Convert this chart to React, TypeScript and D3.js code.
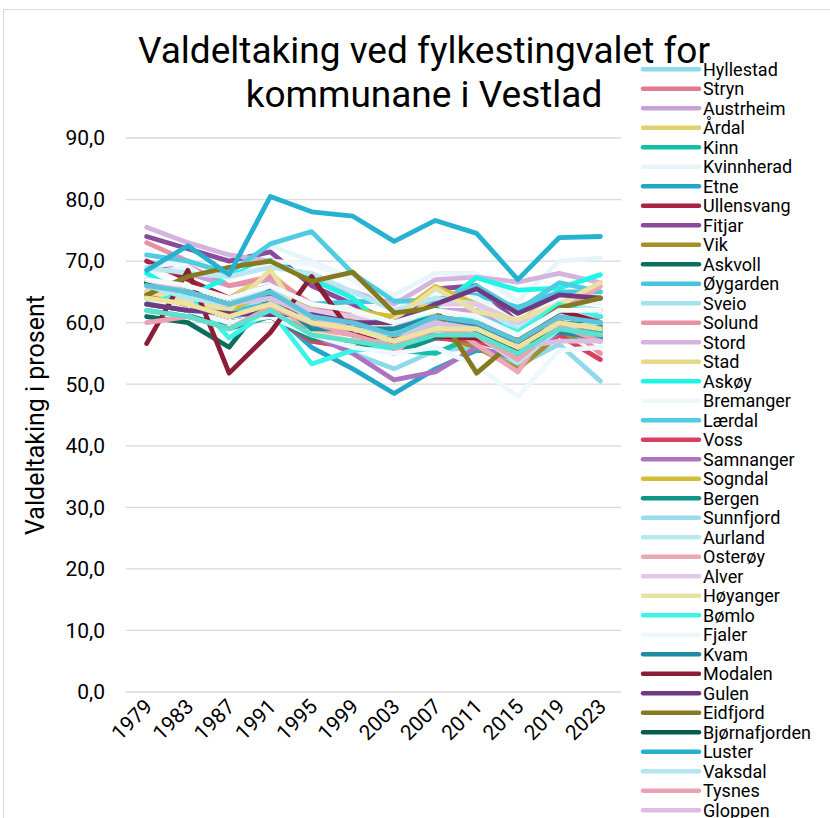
import React from 'react';
import * as d3 from 'd3';

const years = ['1979', '1983', '1987', '1991', '1995', '1999', '2003', '2007', '2011', '2015', '2019', '2023'];
const yTicks = [0, 10, 20, 30, 40, 50, 60, 70, 80, 90];

const municipalities = [
  'Hyllestad', 'Stryn', 'Austrheim', 'Årdal', 'Kinn', 'Kvinnherad', 'Etne', 'Ullensvang', 'Fitjar', 'Vik',
  'Askvoll', 'Øygarden', 'Sveio', 'Solund', 'Stord', 'Stad', 'Askøy', 'Bremanger', 'Lærdal', 'Voss',
  'Samnanger', 'Sogndal', 'Bergen', 'Sunnfjord', 'Aurland', 'Osterøy', 'Alver', 'Høyanger', 'Bømlo', 'Fjaler',
  'Kvam', 'Modalen', 'Gulen', 'Eidfjord', 'Bjørnafjorden', 'Luster', 'Vaksdal', 'Tysnes', 'Gloppen',
  'Masfjorden', 'Austevoll', 'Fedje', 'Ulvik',
];

const colors = [
  '#8FD9EA', '#E07A8E', '#CBA0D6', '#E3D06C', '#14BFA8', '#E6F5FA', '#23A7C8', '#A82342', '#8C4A9A', '#A3902A',
  '#0B6E5E', '#45C6DE', '#A5E2EF', '#E891A5', '#D5B3DF', '#E6DA8A', '#1EF5E5', '#EEF7FB', '#4FCBE2', '#D8405F',
  '#AE72C2', '#D3BE36', '#0C9686', '#98DDEB', '#B9E8F2', '#EAA7B6', '#E1C8E8', '#E9E1A3', '#3BF4E8', '#EEF8FC',
  '#1D8BA0', '#8B1E36', '#6F3A82', '#857A20', '#075A4E', '#25B2D0', '#B2E6F0', '#EBA3B3', '#DCBDE2',
  '#EDE29E', '#5DE0CE', '#F2FAFC', '#5CC3DA',
];

const hyllestad = [66, 64.5, 62, 63.5, 60, 55, 52.5, 55.5, 56, 53, 56.5, 50.5];
const stryn = [66.5, 65, 63, 64, 60.5, 59, 56.5, 60, 59, 55, 60, 58];
const austrheim = [70, 68, 66, 67, 62, 60, 58, 62, 62, 58, 62, 60];
const ardal = [67, 66, 64, 68, 62.5, 62, 60, 64, 64, 60, 65, 64];
const kinn = [62, 61, 60, 61, 57, 56, 55.5, 55, 58, 55, 58.5, 58.5];
const kvinnherad = [68, 69, 68.5, 72.5, 70, 67, 64.5, 68, 68, 63.5, 70, 70.5];
const etne = [66, 63, 61, 62, 56, 52.5, 48.5, 52.5, 55.5, 55, 58, 57];
const ullensvang = [70, 67, 64, 66, 60, 58, 57, 60, 60, 57, 62, 62];
const fitjar = [74, 72, 70, 71.5, 66, 63, 60, 65.5, 66, 60, 64, 64];
const vik = [64, 62, 60, 61, 59, 60.5, 57, 58, 56, 52.5, 58, 57.5];
const askvoll = [61, 60, 56, 64.5, 58.8, 60, 58, 61, 60, 56, 62, 61];
const oygarden = [64, 63, 62, 63, 63, 63.4, 63.5, 63.7, 64.5, 62.5, 65, 65];
const sveio = [65, 64, 62.5, 64, 60, 58, 56, 59, 58, 54, 59, 58];
const solund = [73, 70, 66, 67.5, 63, 61, 57, 61, 60, 55, 60.5, 55];
const stord = [75.5, 73, 71, 70, 67, 65, 63, 67, 67.4, 66.6, 68, 66.5];
const stad = [65, 64, 62, 66, 61, 60, 58, 62, 61, 58, 62, 61];
const askoy = [68, 64.2, 67.5, 70.2, 67, 64, 58, 62.4, 67.3, 65.3, 65.6, 67.8];
const bremanger = [69, 70, 67, 70, 69.5, 67, 62, 65, 64, 60, 64, 63];
const laerdal = [71, 70, 68, 72.8, 74.8, 68, 63.5, 63.5, 66, 62, 66.5, 65];
const voss = [65, 62, 60, 61, 57, 56, 55.3, 57.5, 57, 55, 58, 54];
const samnanger = [63, 62, 60, 61, 58, 55, 50.7, 52, 56, 54, 58.4, 61];
const sogndal = [64, 63.5, 62, 65, 63, 62, 61, 65.9, 63, 60, 63, 62];
const bergen = [63, 62, 59, 61, 57.5, 57, 55, 57.5, 58.5, 56, 60, 59.5];
const sunnfjord = [66, 64, 63, 65, 60, 58, 57, 60, 60, 54.5, 60, 59];
const aurland = [69, 68, 67.5, 69, 68, 65, 62, 64, 63, 59, 63, 62];
const osteroy = [66, 63, 61, 63, 59, 58, 55, 61, 56.4, 52, 61.8, 65.9];
const alver = [65, 64, 63, 65, 62, 61, 59, 63, 63, 60, 63, 60];
const hoyanger = [65, 63.7, 62, 68.6, 58.4, 57, 60.5, 65.6, 61.8, 60.5, 63, 66.5];
const bomlo = [63, 65, 57.5, 62, 53.3, 55.5, 56, 60, 61, 58.5, 63, 61];
const fjaler = [64, 62, 60, 61, 58, 56, 55, 56, 53, 48, 55.5, 56];
const kvam = [67, 65, 63, 64.5, 59, 59, 59, 61, 59.5, 56, 58.5, 57.5];
const modalen = [56.6, 68.5, 51.8, 58.4, 67.5, 58, 57.5, 57.8, 57.5, 55.5, 62, 60];
const gulen = [63, 62, 61.5, 61.3, 61.3, 60, 60, 63, 65.5, 61.5, 64.5, 64];
const eidfjord = [64.5, 67.5, 69, 70, 66.7, 68.2, 61.6, 62.4, 51.8, 57.5, 62.4, 64];
const bjornafjorden = [66.5, 65, 63, 65.5, 60, 59, 58, 60, 59, 55, 60, 59];
const luster = [68.5, 72.5, 67.8, 80.5, 78, 77.3, 73.2, 76.6, 74.5, 67, 73.8, 74];
const vaksdal = [66, 64, 63, 66, 60, 59, 58, 60, 58, 53.5, 59, 60];
const tysnes = [60, 61, 59, 62.5, 60, 58, 56, 59, 58, 54, 59.5, 57];
const gloppen = [67, 65, 63, 64, 61, 59, 57, 60, 59, 56, 57, 57];
const masfjorden = [64, 63, 61, 63, 60, 59, 57, 59, 59, 56, 60, 59];
const austevoll = [62, 61, 59, 62, 58, 57, 56, 58, 58, 55, 59, 58];
const fedje = [67, 66, 64, 66, 63, 62, 60, 62, 61, 58, 62, 62];
const ulvik = [66, 65, 63, 65, 61, 60, 58, 61, 60, 57, 61, 60];

const seriesValues = [
  hyllestad, stryn, austrheim, ardal, kinn, kvinnherad, etne, ullensvang, fitjar, vik,
  askvoll, oygarden, sveio, solund, stord, stad, askoy, bremanger, laerdal, voss,
  samnanger, sogndal, bergen, sunnfjord, aurland, osteroy, alver, hoyanger, bomlo, fjaler,
  kvam, modalen, gulen, eidfjord, bjornafjorden, luster, vaksdal, tysnes, gloppen,
  masfjorden, austevoll, fedje, ulvik,
];

const W = 830;
const H = 818;
const FONT = 'Roboto, "Noto Sans", sans-serif';
const LEGEND_TOP = 69.3;
const LEGEND_STEP = 19.5;

export default function App() {
  const x = d3.scaleBand<string>().domain(years).range([126, 621]);
  const y = d3.scaleLinear().domain([0, 90]).range([692, 138]);
  const cx = (yr: string) => (x(yr) as number) + x.bandwidth() / 2;
  const line = d3
    .line<number>()
    .x((_, i) => cx(years[i]))
    .y((d) => y(d));

  const fmt = (v: number) => v.toFixed(1).replace('.', ',');

  // legend entries that fit (partially) on the canvas, like the clipped legend of the original
  const legendItems = municipalities
    .map((m, i) => ({ m, i, ly: LEGEND_TOP + i * LEGEND_STEP }))
    .filter((d) => d.ly < H);

  return (
    <svg
      width={W}
      height={H}
      style={{ position: 'absolute', left: 0, top: 0, display: 'block', background: '#fff' }}
      fontFamily={FONT}
    >
      <rect x={3.5} y={9.5} width={W + 20} height={H + 20} fill="#fff" stroke="#d9d9d9" strokeWidth={1} />

      {yTicks.map((t) => (
        <line key={t} x1={126} x2={621} y1={y(t)} y2={y(t)} stroke="#d9d9d9" strokeWidth={1.3} />
      ))}

      {yTicks.map((t) => (
        <text key={t} x={105} y={y(t)} dy="0.35em" textAnchor="end" fontSize={21} fill="#000">
          {fmt(t)}
        </text>
      ))}

      <text
        transform={`translate(44, ${y(45)}) rotate(-90)`}
        textAnchor="middle"
        fontSize={25}
        fill="#000"
      >
        Valdeltaking i prosent
      </text>

      {years.map((yr) => (
        <text
          key={yr}
          transform={`translate(${cx(yr) + 7}, ${708}) rotate(-45)`}
          textAnchor="end"
          fontSize={21}
          fill="#000"
        >
          {yr}
        </text>
      ))}

      {seriesValues.map((vals, i) => (
        <path
          key={municipalities[i]}
          d={line(vals) as string}
          fill="none"
          stroke={colors[i]}
          strokeWidth={4.8}
          strokeLinejoin="round"
          strokeLinecap="round"
        />
      ))}

      <text x={424} y={63} textAnchor="middle" fontSize={37} fill="#000">
        Valdeltaking ved fylkestingvalet for
      </text>
      <text x={424} y={107} textAnchor="middle" fontSize={37} fill="#000">
        kommunane i Vestlad
      </text>

      {legendItems.map(({ m, i, ly }) => (
        <g key={m}>
          <line x1={643} x2={699} y1={ly} y2={ly} stroke={colors[i]} strokeWidth={4.5} strokeLinecap="round" />
          <text x={703} y={ly + 6.5} fontSize={18} fill="#000">
            {m}
          </text>
        </g>
      ))}
    </svg>
  );
}
